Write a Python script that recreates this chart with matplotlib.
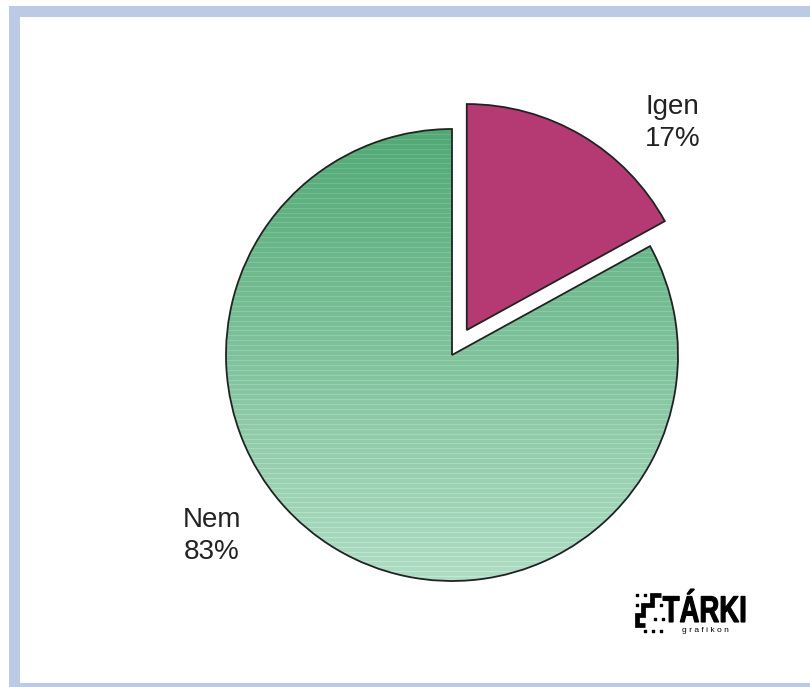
import numpy as np
import matplotlib
matplotlib.use('Agg')
import matplotlib.pyplot as plt
from matplotlib.patches import Rectangle, PathPatch
from matplotlib.textpath import TextPath
from matplotlib.font_manager import FontProperties
from matplotlib.transforms import Affine2D

labels = ['Igen', 'Nem']
values = [17, 83]
colors = ['#b53a74', '#5aab7c']

W, H = 810, 687
fig = plt.figure(figsize=(W / 100, H / 100), dpi=100)
ax = fig.add_axes([0, 0, 1, 1])

# kör diagram, pixel koordinátákban
cx, cy, r = 452, H - 355, 226
wedges, _ = ax.pie(values, colors=colors, startangle=90, counterclock=False,
                   explode=[29, 0], center=(cx, cy), radius=r, frame=True,
                   wedgeprops=dict(edgecolor='#222222', linewidth=1.3))
ax.set_xlim(0, W)
ax.set_ylim(0, H)
ax.set_aspect('equal')
ax.axis('off')

# keret
band = '#bccbe3'
ax.add_patch(Rectangle((9, H - 17), W, 11, color=band, lw=0))
ax.add_patch(Rectangle((9, 0), 11, H - 6, color=band, lw=0))
ax.add_patch(Rectangle((9, 0), W, 4, color=band, lw=0))

# zöld színátmenet csíkokkal
n = 460
t = np.linspace(0, 1, n)[:, None]
top = np.array([0x52, 0xa8, 0x75]) / 255
bot = np.array([0xb0, 0xdc, 0xc4]) / 255
grad = top + (bot - top) * t
grad = grad[:, None, :].repeat(2, axis=1)
stripe = (np.arange(n) % 5 == 0)
grad[stripe] = np.clip(grad[stripe] + 0.06, 0, 1)
green = wedges[1]
img = ax.imshow(grad, extent=(cx - r, cx + r, cy - r, cy + r), origin='upper',
                aspect='auto', zorder=green.get_zorder() + 0.1, interpolation='nearest')
img.set_clip_path(green)
green.set_facecolor('none')
green.set_zorder(img.get_zorder() + 0.1)
ax.set_xlim(0, W)
ax.set_ylim(0, H)

# feliratok
fam = ['Liberation Sans', 'DejaVu Sans']
ax.text(645, H - 123, 'Igen\n17%', fontsize=20, family=fam, color='#222222',
        ha='left', va='center', linespacing=1.3)
ax.text(212, H - 536, 'Nem\n83%', fontsize=20, family=fam, color='#222222',
        ha='center', va='center', linespacing=1.3)

# TÁRKI logó
tp = TextPath((0, 0), 'TÁRKI', size=1,
              prop=FontProperties(family='Liberation Sans', weight='bold'))
ext = tp.get_extents()
x0, x1, y0, y1 = 663, 745, H - 622, H - 589
tr = (Affine2D().translate(-ext.x0, -ext.y0)
      .scale((x1 - x0) / ext.width, (y1 - y0) / ext.height).translate(x0, y0))
ax.add_patch(PathPatch(tr.transform_path(tp), facecolor='black',
                       edgecolor='black', lw=0.8))
ax.text(705, H - 630, 'g r a f i k o n', fontsize=6, family=fam, color='black',
        ha='center', va='center')
sx = [661, 652, 652, 643, 643, 636.5, 636.5, 645]
sy = [595, 595, 605, 605, 615, 615, 625, 625]
ax.plot(sx, [H - v for v in sy], color='black', linewidth=3.4,
        solid_joinstyle='miter', solid_capstyle='butt')
dx = [637, 645, 637, 661, 655, 663, 645, 653, 661]
dy = [595, 595, 605, 605, 619, 619, 631, 631, 631]
ax.scatter(dx, [H - v for v in dy], s=2, color='black', marker='s')

fig.savefig('out.png', dpi=100)
